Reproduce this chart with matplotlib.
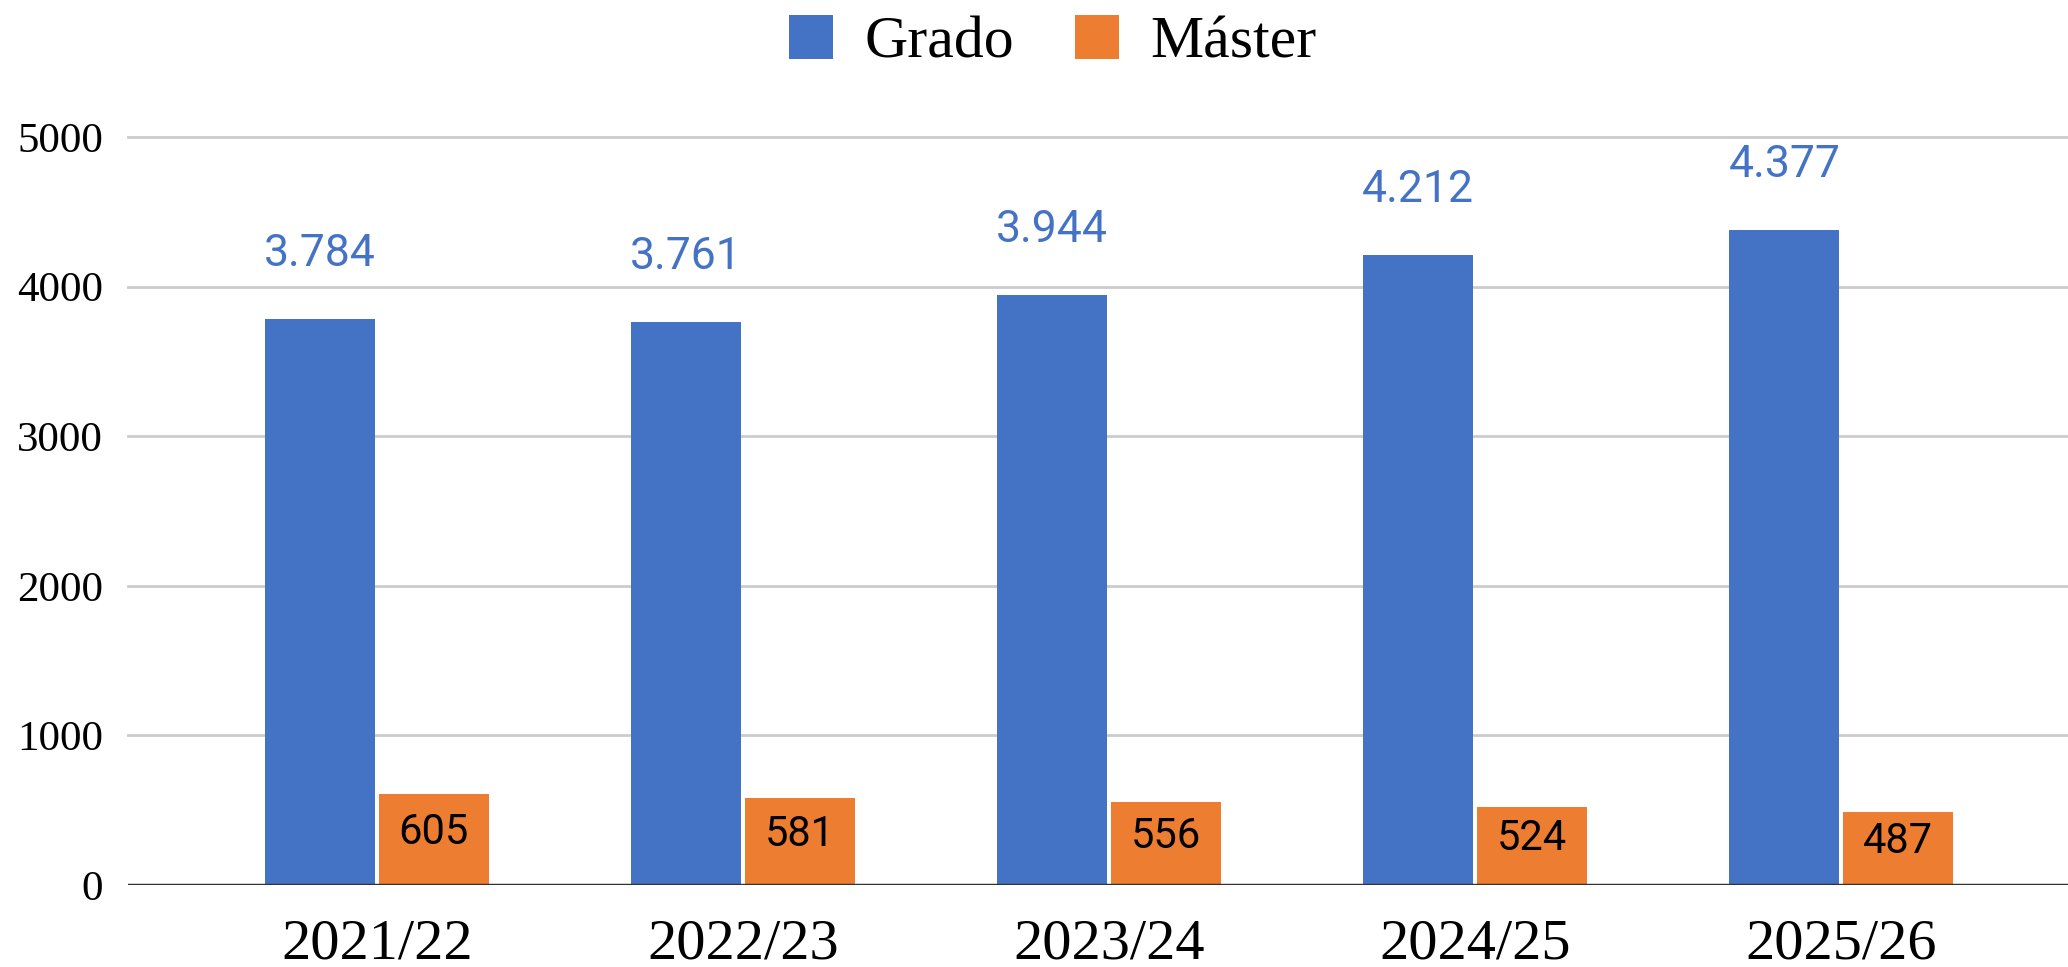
import matplotlib
matplotlib.use("Agg")
import matplotlib.pyplot as plt
import numpy as np

categories = ["2021/22", "2022/23", "2023/24", "2024/25", "2025/26"]
grado = [3784, 3761, 3944, 4212, 4377]
master = [605, 581, 556, 524, 487]
series_names = ["Grado", "Máster"]
yticks = [0, 1000, 2000, 3000, 4000, 5000]

BLUE = "#4472C4"
ORANGE = "#ED7D31"

def fmt(v):
    return f"{v:,}".replace(",", ".")

fig = plt.figure(figsize=(20.68, 9.67), dpi=100)
ax = fig.add_axes([128/2068, 82/967, 1 - 128/2068, (885-137)/967])

x = np.arange(len(categories))
w = 0.30
off = 0.155
b1 = ax.bar(x - off, grado, w, color=BLUE, label=series_names[0], zorder=3)
b2 = ax.bar(x + off, master, w, color=ORANGE, label=series_names[1], zorder=3)

for rect, v in zip(b1, grado):
    ax.annotate(fmt(v), (rect.get_x() + rect.get_width()/2, v), xytext=(0, 47),
                textcoords="offset points", ha="center", va="center",
                fontsize=32, color=BLUE, family="Roboto", annotation_clip=False)
for rect, v in zip(b2, master):
    ax.annotate(fmt(v), (rect.get_x() + rect.get_width()/2, v/2), xytext=(0, 5),
                textcoords="offset points", ha="center", va="center",
                fontsize=30, color="black", family="Roboto", zorder=4)

ax.set_ylim(0, 5000)
ax.set_xlim(-0.68, 4.62)
ax.set_yticks(yticks)
ax.set_yticklabels([str(t) for t in yticks], family="Liberation Serif", fontsize=31)
ax.set_xticks(x)
ax.set_xticklabels(categories, family="Liberation Serif", fontsize=42)
ax.tick_params(axis="y", length=0, pad=18)
ax.tick_params(axis="x", length=0, pad=24)

for t in yticks[1:]:
    ax.axhline(t, color="#cccccc", lw=2, zorder=1, clip_on=False)
ax.axhline(0, color="#333333", lw=2.5, zorder=4)
for s in ax.spines.values():
    s.set_visible(False)

fig.legend(handles=[b1, b2], labels=series_names, loc="center",
           bbox_to_anchor=(0.509, 1 - 43/967), ncol=2, frameon=False,
           prop={"family": "Liberation Serif", "size": 43},
           handlelength=0.74, handleheight=0.74, handletextpad=0.52,
           columnspacing=1.02, borderpad=0)

fig.savefig("out.png", dpi=100)
